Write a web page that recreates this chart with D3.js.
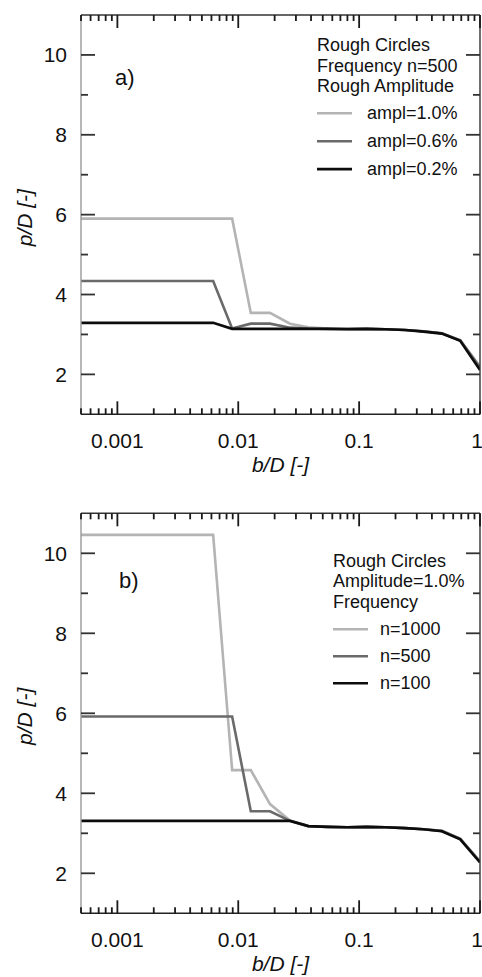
<!DOCTYPE html>
<html>
<head>
<meta charset="utf-8">
<script src="https://cdn.jsdelivr.net/npm/d3@7"></script>
<style>
  body { margin: 0; background: #fff; }
  svg text { font-family: "Liberation Sans", Arial, sans-serif; fill: #111; }
</style>
</head>
<body>
<div id="chart"></div>
<script>
// b/D values shared by all curves
const bdValues = [0.0005, 0.0062, 0.0089, 0.0127, 0.0183, 0.0268, 0.038, 0.055, 0.08, 0.115, 0.165, 0.24, 0.34, 0.483, 0.686, 1];

// panel a) : frequency n=500, varying amplitude
const amplLabels = ['ampl=1.0%', 'ampl=0.6%', 'ampl=0.2%'];
const ampl10 = [5.9, 5.9, 5.9, 3.54, 3.54, 3.27, 3.18, 3.15, 3.14, 3.14, 3.13, 3.11, 3.08, 3.03, 2.86, 2.2];
const ampl06 = [4.34, 4.34, 3.15, 3.27, 3.27, 3.17, 3.15, 3.14, 3.14, 3.14, 3.13, 3.11, 3.08, 3.03, 2.85, 2.17];
const ampl02 = [3.29, 3.29, 3.14, 3.14, 3.14, 3.14, 3.14, 3.14, 3.13, 3.14, 3.13, 3.11, 3.07, 3.02, 2.84, 2.11];

// panel b) : amplitude 1.0%, varying frequency
const freqLabels = ['n=1000', 'n=500', 'n=100'];
const n1000 = [10.46, 10.46, 4.58, 4.58, 3.73, 3.32, 3.18, 3.16, 3.15, 3.16, 3.15, 3.13, 3.1, 3.06, 2.87, 2.3];
const n500 = [5.92, 5.92, 5.92, 3.55, 3.55, 3.31, 3.18, 3.16, 3.15, 3.16, 3.15, 3.13, 3.1, 3.06, 2.86, 2.29];
const n100 = [3.31, 3.31, 3.31, 3.31, 3.31, 3.31, 3.18, 3.16, 3.15, 3.16, 3.15, 3.13, 3.1, 3.05, 2.85, 2.27];

const yMajor = [2, 4, 6, 8, 10];
const yMinor = [3, 5, 7, 9];
const xTickLabels = ['0.001', '0.01', '0.1', '1'];

const lineColors = ['#b4b4b4', '#6a6a6a', '#0c0c0c'];

const width = 482;
const height = 977;
const left = 81;
const right = 480;

const svg = d3.select('#chart')
  .append('svg')
  .attr('width', width)
  .attr('height', height);

const x = d3.scaleLog()
  .domain([0.0005, 1])
  .range([left, right]);

// every 1..9 x 10^k inside the domain; decades are the long ticks
const xAll = x.ticks();
const isDecade = v => Math.abs(Math.log10(v) - Math.round(Math.log10(v))) < 1e-9;

function drawPanel(top, bottom, series, legendTitle, legendLabels, label, lay) {
  const y = d3.scaleLinear().domain([1, 11]).range([bottom, top]);
  const g = svg.append('g');

  // curves
  const curve = d3.line()
    .x((d, i) => x(bdValues[i]))
    .y(d => y(d));

  const clipId = 'clip' + Math.round(top);
  g.append('clipPath').attr('id', clipId).append('rect')
    .attr('x', left).attr('y', top).attr('width', right - left).attr('height', bottom - top);

  g.append('g').attr('clip-path', `url(#${clipId})`)
    .selectAll('path')
    .data(series)
    .enter()
    .append('path')
    .attr('d', d => curve(d))
    .attr('fill', 'none')
    .attr('stroke', (d, i) => lineColors[i])
    .attr('stroke-width', 2.6);

  // frame
  svg.append('line').attr('x1', left).attr('x2', left).attr('y1', top).attr('y2', bottom)
    .attr('stroke', '#999').attr('stroke-width', 1.4);
  svg.append('line').attr('x1', right).attr('x2', right).attr('y1', top).attr('y2', bottom)
    .attr('stroke', '#333').attr('stroke-width', 1.4);
  svg.append('line').attr('x1', left).attr('x2', right).attr('y1', top).attr('y2', top)
    .attr('stroke', '#333').attr('stroke-width', 1.4);
  svg.append('line').attr('x1', left).attr('x2', right).attr('y1', bottom).attr('y2', bottom)
    .attr('stroke', '#222').attr('stroke-width', 1.6);

  // x ticks as thin filled rects (inward, bottom and top)
  const xLen = d => isDecade(d) ? 13 : 6;
  const tx = svg.append('g').attr('fill', '#1a1a1a');
  tx.selectAll('rect.b')
    .data(xAll)
    .enter()
    .append('rect')
    .attr('class', 'b')
    .attr('x', d => x(d) - 0.9)
    .attr('y', d => bottom - xLen(d))
    .attr('width', 1.8)
    .attr('height', d => xLen(d));
  tx.selectAll('rect.t')
    .data(xAll)
    .enter()
    .append('rect')
    .attr('class', 't')
    .attr('x', d => x(d) - 0.9)
    .attr('y', top)
    .attr('width', 1.8)
    .attr('height', d => xLen(d));

  // y ticks (inward, left and right)
  const yLen = d => yMajor.includes(d) ? 14 : 7;
  const yAll = yMajor.concat(yMinor);
  const ty = svg.append('g').attr('fill', '#333');
  ty.selectAll('rect.l')
    .data(yAll)
    .enter()
    .append('rect')
    .attr('class', 'l')
    .attr('x', left)
    .attr('y', d => y(d) - 0.9)
    .attr('width', d => yLen(d))
    .attr('height', 1.8);
  ty.selectAll('rect.r')
    .data(yAll)
    .enter()
    .append('rect')
    .attr('class', 'r')
    .attr('x', d => right - yLen(d))
    .attr('y', d => y(d) - 0.9)
    .attr('width', d => yLen(d))
    .attr('height', 1.8);

  // tick labels
  g.append('g')
    .selectAll('text')
    .data(xAll.filter(isDecade))
    .enter()
    .append('text')
    .attr('x', d => Math.min(x(d), right - 3))
    .attr('y', bottom + 34)
    .attr('text-anchor', 'middle')
    .attr('font-size', 21)
    .text((d, i) => xTickLabels[i]);

  g.append('g')
    .selectAll('text')
    .data(yMajor)
    .enter()
    .append('text')
    .attr('x', left - 14)
    .attr('y', d => y(d))
    .attr('dy', '0.36em')
    .attr('text-anchor', 'end')
    .attr('font-size', 21)
    .text(d => d);

  // axis titles
  g.append('text')
    .attr('x', (left + right) / 2)
    .attr('y', bottom + 58)
    .attr('text-anchor', 'middle')
    .attr('font-size', 21)
    .attr('font-style', 'italic')
    .text('b/D [-]');

  g.append('text')
    .attr('transform', `translate(32,${(top + bottom) / 2 + 3}) rotate(-90)`)
    .attr('text-anchor', 'middle')
    .attr('font-size', 21)
    .attr('font-style', 'italic')
    .text('p/D [-]');

  // panel label
  g.append('text')
    .attr('x', lay.labelX)
    .attr('y', top + lay.labelDy)
    .attr('font-size', 22)
    .text(label);

  // legend
  const leg = g.append('g');
  legendTitle.forEach((t, i) => {
    leg.append('text')
      .attr('x', lay.legX)
      .attr('y', top + lay.legDy + i * 20.5)
      .attr('font-size', 18)
      .text(t);
  });
  legendLabels.forEach((t, i) => {
    const ly = top + lay.rowDy + i * lay.rowGap;
    leg.append('line')
      .attr('x1', lay.legX).attr('x2', lay.legX + 35)
      .attr('y1', ly).attr('y2', ly)
      .attr('stroke', lineColors[i])
      .attr('stroke-width', 2.6);
    leg.append('text')
      .attr('x', lay.legX + lay.textGap)
      .attr('y', ly + 6)
      .attr('font-size', 18)
      .text(t);
  });
}

drawPanel(15, 414.3, [ampl10, ampl06, ampl02],
  ['Rough Circles', 'Frequency n=500', 'Rough Amplitude'], amplLabels, 'a)',
  { labelX: 115, labelDy: 70, legX: 317, legDy: 36, rowDy: 98.3, rowGap: 27.9, textGap: 50 });

drawPanel(513.3, 913.3, [n1000, n500, n100],
  ['Rough Circles', 'Amplitude=1.0%', 'Frequency'], freqLabels, 'b)',
  { labelX: 119, labelDy: 75, legX: 333, legDy: 53.4, rowDy: 116, rowGap: 27, textGap: 47 });
</script>
</body>
</html>
